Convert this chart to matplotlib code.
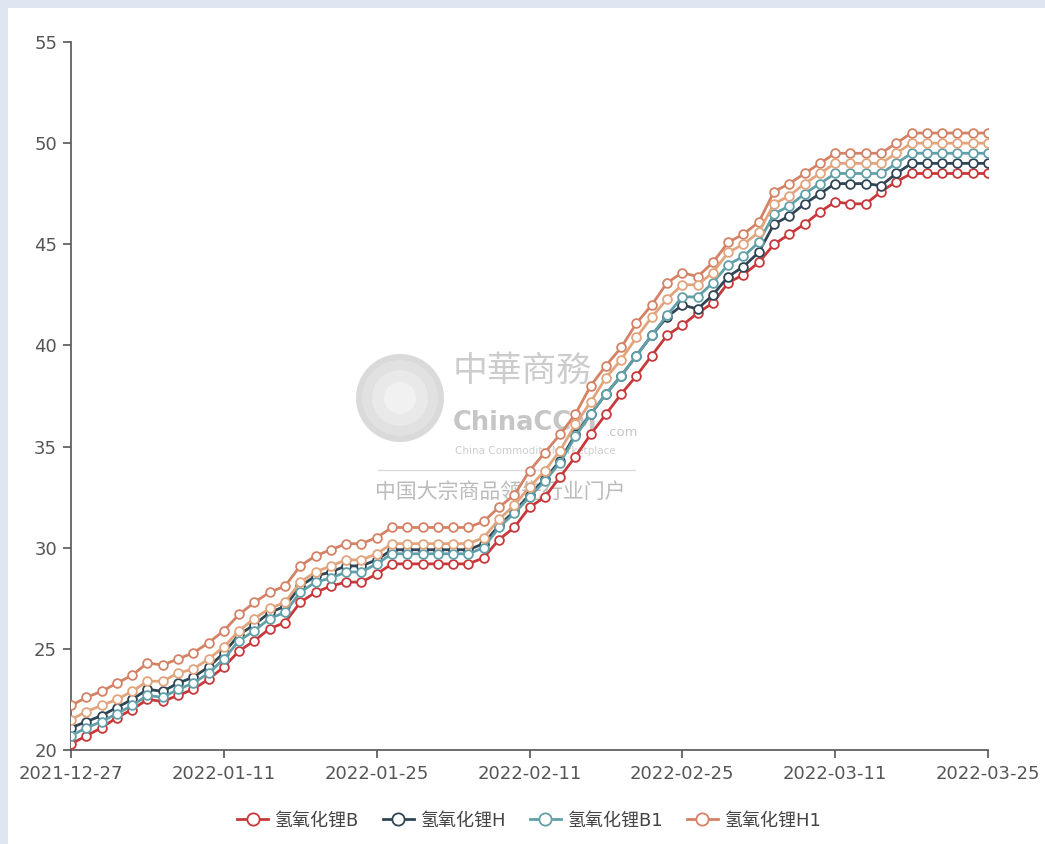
import numpy as np
import matplotlib
matplotlib.use('Agg')
import matplotlib.pyplot as plt
from matplotlib.patches import Rectangle, Ellipse
from matplotlib.lines import Line2D

plt.rcParams['font.family'] = ['DejaVu Sans', 'Noto Sans CJK SC']

# trading days shown on the category axis
dates = ['2021-12-27', '2021-12-28', '2021-12-29', '2021-12-30', '2021-12-31',
         '2022-01-04', '2022-01-05', '2022-01-06', '2022-01-07', '2022-01-10',
         '2022-01-11', '2022-01-12', '2022-01-13', '2022-01-14', '2022-01-17',
         '2022-01-18', '2022-01-19', '2022-01-20', '2022-01-21', '2022-01-24',
         '2022-01-25', '2022-01-26', '2022-01-27', '2022-01-28', '2022-01-29',
         '2022-01-30', '2022-02-07', '2022-02-08', '2022-02-09', '2022-02-10',
         '2022-02-11', '2022-02-14', '2022-02-15', '2022-02-16', '2022-02-17',
         '2022-02-18', '2022-02-21', '2022-02-22', '2022-02-23', '2022-02-24',
         '2022-02-25', '2022-02-28', '2022-03-01', '2022-03-02', '2022-03-03',
         '2022-03-04', '2022-03-07', '2022-03-08', '2022-03-09', '2022-03-10',
         '2022-03-11', '2022-03-14', '2022-03-15', '2022-03-16', '2022-03-17',
         '2022-03-18', '2022-03-21', '2022-03-22', '2022-03-23', '2022-03-24',
         '2022-03-25']

lioh_b = [20.3, 20.7, 21.1, 21.6, 22.0, 22.5, 22.4, 22.7, 23.0, 23.5,
          24.1, 24.9, 25.4, 26.0, 26.3, 27.3, 27.8, 28.1, 28.3, 28.3,
          28.7, 29.2, 29.2, 29.2, 29.2, 29.2, 29.2, 29.5, 30.4, 31.0,
          32.0, 32.5, 33.5, 34.5, 35.6, 36.6, 37.6, 38.5, 39.5, 40.5,
          41.0, 41.6, 42.1, 43.1, 43.5, 44.1, 45.0, 45.5, 46.0, 46.6,
          47.1, 47.0, 47.0, 47.6, 48.1, 48.5, 48.5, 48.5, 48.5, 48.5, 48.5]

lioh_h = [21.1, 21.4, 21.7, 22.1, 22.5, 23.0, 22.9, 23.3, 23.6, 24.1,
          24.8, 25.7, 26.2, 26.8, 27.1, 28.1, 28.6, 28.8, 29.1, 29.1,
          29.4, 29.9, 29.9, 29.9, 29.9, 29.9, 29.9, 30.2, 31.1, 31.8,
          32.6, 33.4, 34.3, 35.6, 36.6, 37.6, 38.5, 39.5, 40.5, 41.4,
          42.0, 41.8, 42.5, 43.4, 43.9, 44.6, 46.0, 46.4, 47.0, 47.5,
          48.0, 48.0, 48.0, 47.9, 48.5, 49.0, 49.0, 49.0, 49.0, 49.0, 49.0]

lioh_b1 = [20.7, 21.1, 21.4, 21.8, 22.2, 22.7, 22.6, 23.0, 23.3, 23.8,
           24.5, 25.4, 25.9, 26.5, 26.8, 27.8, 28.3, 28.5, 28.8, 28.8,
           29.2, 29.7, 29.7, 29.7, 29.7, 29.7, 29.7, 30.0, 31.0, 31.7,
           32.5, 33.3, 34.2, 35.5, 36.6, 37.6, 38.5, 39.5, 40.5, 41.5,
           42.4, 42.4, 43.1, 44.0, 44.4, 45.1, 46.5, 46.9, 47.5, 48.0,
           48.5, 48.5, 48.5, 48.5, 49.0, 49.5, 49.5, 49.5, 49.5, 49.5, 49.5]

lioh_h1 = [22.2, 22.6, 22.9, 23.3, 23.7, 24.3, 24.2, 24.5, 24.8, 25.3,
           25.9, 26.7, 27.3, 27.8, 28.1, 29.1, 29.6, 29.9, 30.2, 30.2,
           30.5, 31.0, 31.0, 31.0, 31.0, 31.0, 31.0, 31.3, 32.0, 32.6,
           33.8, 34.7, 35.6, 36.6, 38.0, 39.0, 39.9, 41.1, 42.0, 43.1,
           43.6, 43.4, 44.1, 45.1, 45.5, 46.1, 47.6, 48.0, 48.5, 49.0,
           49.5, 49.5, 49.5, 49.5, 50.0, 50.5, 50.5, 50.5, 50.5, 50.5, 50.5]

# fifth line in the picture, no legend entry visible
lioh_extra = [21.5, 21.9, 22.2, 22.5, 22.9, 23.4, 23.4, 23.8, 24.0, 24.5,
              25.1, 25.9, 26.5, 27.0, 27.3, 28.3, 28.8, 29.1, 29.4, 29.4,
              29.7, 30.2, 30.2, 30.2, 30.2, 30.2, 30.2, 30.5, 31.4, 32.1,
              33.0, 33.8, 34.8, 36.1, 37.2, 38.4, 39.3, 40.4, 41.4, 42.3,
              43.0, 43.0, 43.6, 44.6, 45.0, 45.6, 47.0, 47.4, 48.0, 48.5,
              49.0, 49.0, 49.0, 49.0, 49.5, 50.0, 50.0, 50.0, 50.0, 50.0, 50.0]

labels = ['氢氧化锂B', '氢氧化锂H', '氢氧化锂B1', '氢氧化锂H1']
colors = ['#c8383a', '#2f4554', '#61a0a8', '#d48265']
extra_color = '#e2a47c'

W, H = 1045, 844
fig = plt.figure(figsize=(W / 100, H / 100), dpi=100, facecolor='#dde6f1')
# white panel inside the pale blue frame
fig.patches.append(Rectangle((8 / W, 0), 1, 1 - 8 / H, transform=fig.transFigure,
                             facecolor='white', edgecolor='none', zorder=-2))

# watermark (behind the axes)
for r, c in [(44, '#dadada'), (38, '#e1e1e1'), (28, '#e9e9e9'), (16, '#f1f1f1')]:
    fig.patches.append(Ellipse((400 / W, 1 - 398 / H), 2 * r / W, 2 * r / H,
                               transform=fig.transFigure, facecolor=c,
                               edgecolor='none', zorder=-1))
fig.text(453 / W, 1 - 371 / H, '中華商務', fontsize=25, color='#cccccc',
         family=['Noto Sans CJK SC'], va='center', ha='left', zorder=-1)
fig.text(453 / W, 1 - 423 / H, 'ChinaCCM', fontsize=18.5, color='#c6c6c6', fontweight='bold',
         va='center', ha='left', zorder=-1)
fig.text(606 / W, 1 - 433 / H, '.com', fontsize=9.5, color='#c6c6c6',
         va='center', ha='left', zorder=-1)
fig.text(455 / W, 1 - 451 / H, 'China Commodity Marketplace', fontsize=7.5, color='#cdcdcd',
         va='center', ha='left', zorder=-1)
fig.add_artist(Line2D([378 / W, 635 / W], [1 - 470 / H, 1 - 470 / H],
                      color='#dcdcdc', lw=1, zorder=-1))
fig.text(375 / W, 1 - 493 / H, '中国大宗商品领先行业门户', fontsize=15, color='#bbbbbb',
         family=['Noto Sans CJK SC'], va='center', ha='left', zorder=-1)

ax = fig.add_axes([71 / W, 1 - 750 / H, (988 - 71) / W, (750 - 42) / H])
ax.set_facecolor('none')
ax.set_zorder(1)

x = np.arange(len(dates))
series = [lioh_b, lioh_h, lioh_b1, lioh_h1]
for vals, lab, col in zip(series, labels, colors):
    ax.plot(x, vals, color=col, lw=2, marker='o', markersize=6.3,
            markerfacecolor='white', markeredgecolor=col, markeredgewidth=1.3,
            label=lab, zorder=3)
ax.plot(x, lioh_extra, color=extra_color, lw=2, marker='o', markersize=6.3,
        markerfacecolor='white', markeredgecolor=extra_color, markeredgewidth=1.3,
        label='_nolegend_', zorder=3)

ax.set_xlim(0, len(dates) - 1)
ax.set_ylim(20, 55)
ax.set_yticks(np.arange(20, 56, 5))
tick_pos = list(range(0, len(dates), 10))
ax.set_xticks(tick_pos)
ax.set_xticklabels([dates[i] for i in tick_pos])

for s in ['top', 'right']:
    ax.spines[s].set_visible(False)
for s in ['left', 'bottom']:
    ax.spines[s].set_color('#555555')
    ax.spines[s].set_linewidth(1.2)
ax.tick_params(axis='both', colors='#555555', labelcolor='#555555', labelsize=13,
               length=6, width=1.2, direction='out')
ax.tick_params(axis='y', pad=4)
ax.tick_params(axis='x', pad=5)

leg = ax.legend(loc='upper center', bbox_to_anchor=(0.5, -0.064), ncol=4, frameon=False,
                handlelength=1.7, handletextpad=0.4, columnspacing=1.3, markerscale=1.4,
                prop={'family': ['DejaVu Sans', 'Noto Sans CJK SC'], 'size': 13})
for t in leg.get_texts():
    t.set_color('#444444')

fig.savefig('out.png', dpi=100, facecolor=fig.get_facecolor())
